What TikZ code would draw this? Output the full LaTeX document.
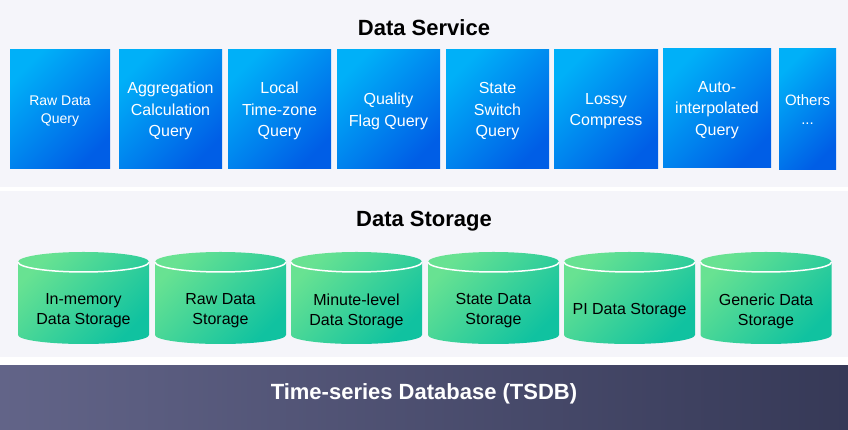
\documentclass[tikz,border=0pt]{standalone}
\usepackage{fontspec}
\setmainfont{Liberation Sans}
\definecolor{panelbg}{RGB}{245,245,250}
\definecolor{svclight}{RGB}{0,176,248}
\definecolor{svcdark}{RGB}{0,94,230}
\definecolor{stolight}{RGB}{104,226,146}
\definecolor{stodark}{RGB}{16,194,160}
\definecolor{dblight}{RGB}{98,100,136}
\definecolor{dbdark}{RGB}{54,57,87}
\begin{document}
\begin{tikzpicture}[x=1pt,y=1pt,
  svcbox/.style={top color=svclight,bottom color=svcdark,shading angle=45,minimum height=119pt,inner sep=1pt,text depth=0pt,text=white,align=center,font=\fontsize{16}{21.5}\selectfont},
  cylshade/.style={top color=stolight,bottom color=stodark,shading angle=45},
  cyltext/.style={align=center,font=\fontsize{16}{20}\selectfont},
  layertitle/.style={font=\fontsize{22}{26}\selectfont\bfseries}]
\useasboundingbox (0,0) rectangle (848,430);
% backgrounds of the three layers
\fill[white] (0,0) rectangle (848,430);
\fill[panelbg] (0,243) rectangle (848,430);
\fill[panelbg] (0,73) rectangle (848,239);
% service layer
\node[layertitle] (svctitle) at (424,402) {Data Service};
\node[svcbox,minimum width=100pt,font=\fontsize{14}{17.5}\selectfont] (rawq) at (60,320.5) {Raw Data\\Query};
\node[svcbox,minimum width=103pt] (aggq) at (170.5,320.5) {Aggregation\\Calculation\\Query};
\node[svcbox,minimum width=103pt] (tzq) at (279.5,320.5) {Local\\Time-zone\\Query};
\node[svcbox,minimum width=103pt] (flagq) at (388.5,320.5) {Quality\\Flag Query};
\node[svcbox,minimum width=103pt] (switchq) at (497.5,320.5) {State\\Switch\\Query};
\node[svcbox,minimum width=104pt] (lossy) at (606,320.5) {Lossy\\Compress};
\node[svcbox,minimum width=108pt] (interpq) at (717,321.5) {Auto-\\interpolated\\Query};
\node[svcbox,minimum width=57pt,minimum height=121pt,font=\fontsize{15}{19}\selectfont] (others) at (807.5,320.5) {Others\\...};
% storage layer
\node[layertitle] (stotitle) at (424,209) {Data Storage};
\foreach \cx/\cname/\ctext in {83.5/memsto/{In-memory\\Data Storage},220.5/rawsto/{Raw Data\\Storage},356.5/minsto/{Minute-level\\Data Storage},493.5/statesto/{State Data\\Storage},629.5/pisto/{PI Data Storage},766/gensto/{Generic Data\\Storage}}{
  \shade[cylshade] (\cx-65.5,168) -- (\cx-65.5,95) arc[start angle=180,end angle=360,x radius=65.5,y radius=9] -- (\cx+65.5,168) arc[start angle=0,end angle=180,x radius=65.5,y radius=10] -- cycle;
  \draw[white,line width=1.5pt] (\cx-65.5,168) arc[start angle=180,end angle=360,x radius=65.5,y radius=10];
  \node[cyltext] (\cname) at (\cx,119) {\ctext};
}
% database bar
\shade[left color=dblight,right color=dbdark] (0,0) rectangle (848,64);
\node[layertitle,text=white] (tsdb) at (424,36) {Time-series Database (TSDB)};
\end{tikzpicture}
\end{document}
